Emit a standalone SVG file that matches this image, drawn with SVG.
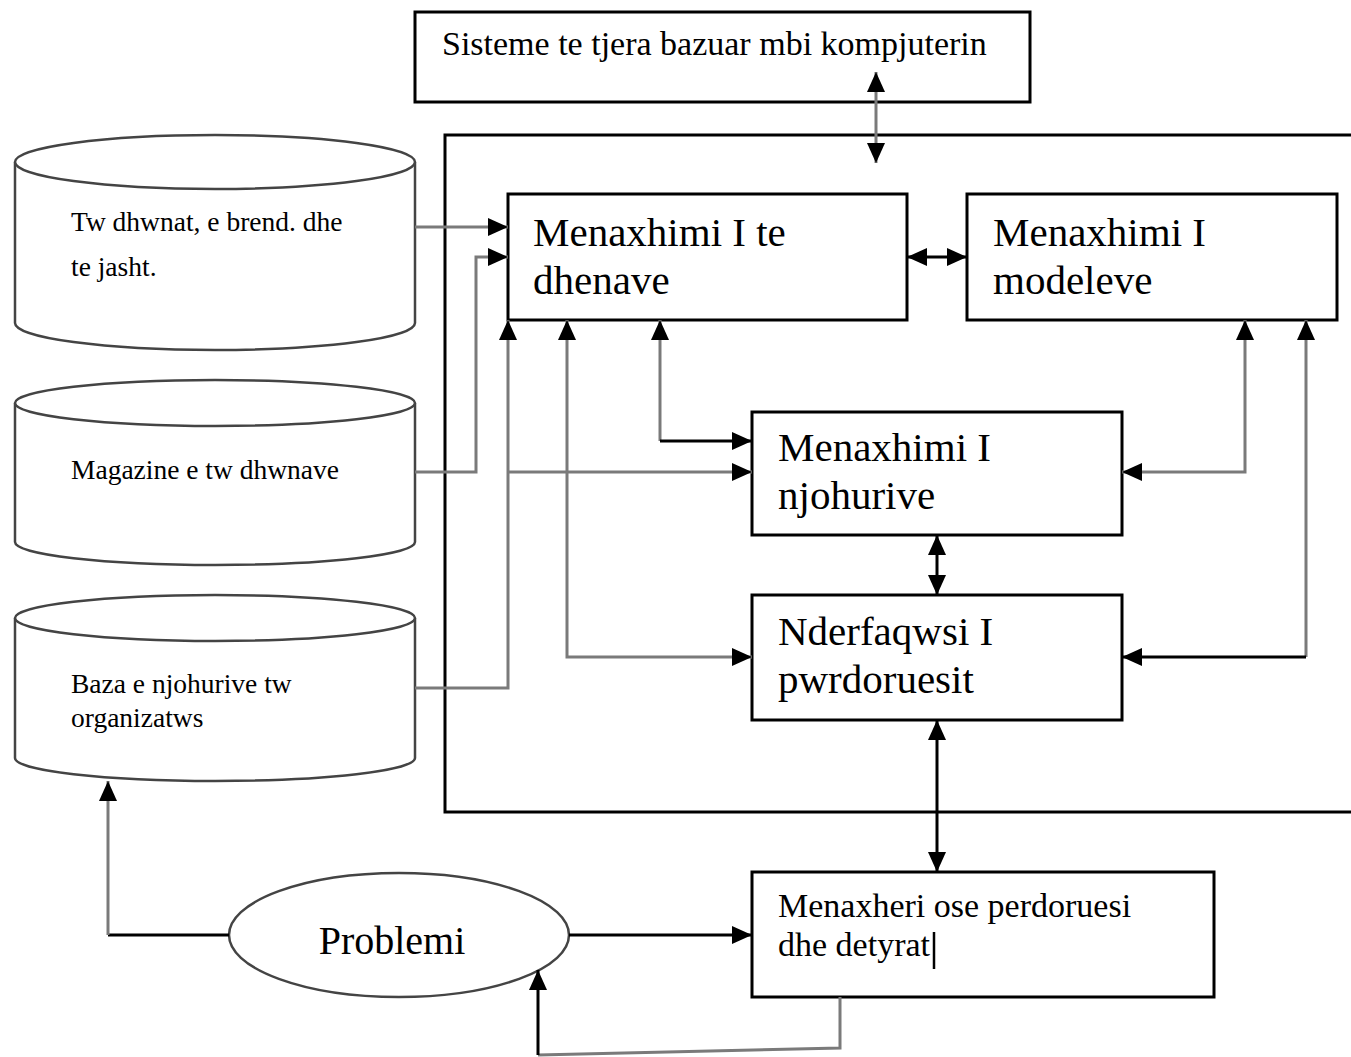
<svg xmlns="http://www.w3.org/2000/svg" width="1351" height="1057" viewBox="0 0 1351 1057">
<style>
  .box { fill: #fff; stroke: #000; stroke-width: 3; }
  .cyl { fill: #fff; stroke: #444; stroke-width: 2.5; }
  .t { font-family: "Liberation Serif", "Times New Roman", serif; fill: #000; }
  .big { font-size: 41px; }
  .mid { font-size: 34px; }
  .sm { font-size: 27.5px; }
  .g { fill: none; stroke: #7a7a7a; stroke-width: 3; }
  .k { fill: none; stroke: #000; stroke-width: 3; }
</style>
<defs>
  <marker id="ah" markerUnits="userSpaceOnUse" markerWidth="20" markerHeight="18" refX="20" refY="9" orient="auto-start-reverse" viewBox="0 0 20 18">
    <path d="M0,0 L20,9 L0,18 z" fill="#000"/>
  </marker>
</defs>
<rect width="1351" height="1057" fill="#fff"/>

<g id="container">
  <rect x="445" y="135" width="920" height="677" fill="none" stroke="#000" stroke-width="3"/>
</g>

<g id="node-top">
  <rect class="box" x="415" y="12" width="615" height="90"/>
  <text class="t" x="442" y="55" font-size="34">Sisteme te tjera bazuar mbi kompjuterin</text>
</g>

<g id="node-cyl1">
  <path class="cyl" d="M15,162 L15,323 A200,27 0 0 0 415,323 L415,162"/>
  <ellipse class="cyl" cx="215" cy="162" rx="200" ry="27"/>
  <text class="t sm" x="71" y="231">Tw dhwnat, e brend. dhe</text>
  <text class="t sm" x="71" y="276">te jasht.</text>
</g>

<g id="node-cyl2">
  <path class="cyl" d="M15,403 L15,542 A200,23 0 0 0 415,542 L415,403"/>
  <ellipse class="cyl" cx="215" cy="403" rx="200" ry="23"/>
  <text class="t sm" x="71" y="479">Magazine e tw dhwnave</text>
</g>

<g id="node-cyl3">
  <path class="cyl" d="M15,618 L15,758 A200,23 0 0 0 415,758 L415,618"/>
  <ellipse class="cyl" cx="215" cy="618" rx="200" ry="23"/>
  <text class="t sm" x="71" y="693">Baza e njohurive tw</text>
  <text class="t sm" x="71" y="727">organizatws</text>
</g>

<g id="node-dhenave">
  <rect class="box" x="508" y="194" width="399" height="126"/>
  <text class="t big" x="533" y="246">Menaxhimi I te</text>
  <text class="t big" x="533" y="294">dhenave</text>
</g>

<g id="node-modeleve">
  <rect class="box" x="967" y="194" width="370" height="126"/>
  <text class="t big" x="993" y="246">Menaxhimi I</text>
  <text class="t big" x="993" y="294">modeleve</text>
</g>

<g id="node-njohurive">
  <rect class="box" x="752" y="412" width="370" height="123"/>
  <text class="t big" x="778" y="461">Menaxhimi I</text>
  <text class="t big" x="778" y="509">njohurive</text>
</g>

<g id="node-nderfaqwsi">
  <rect class="box" x="752" y="595" width="370" height="125"/>
  <text class="t big" x="778" y="645">Nderfaqwsi I</text>
  <text class="t big" x="778" y="693">pwrdoruesit</text>
</g>

<g id="node-menaxheri">
  <rect class="box" x="752" y="872" width="462" height="125"/>
  <text class="t mid" x="778" y="917">Menaxheri ose perdoruesi</text>
  <text class="t mid" x="778" y="956">dhe detyrat</text>
  <line x1="934" y1="932" x2="934" y2="969" stroke="#000" stroke-width="2.5"/>
</g>

<g id="node-problemi">
  <ellipse class="cyl" cx="399" cy="935" rx="170" ry="62"/>
  <text class="t" x="392" y="954" font-size="40" text-anchor="middle">Problemi</text>
</g>

<g id="connectors">
  <path class="g" d="M876,72 L876,163" marker-start="url(#ah)" marker-end="url(#ah)"/>
  <path class="g" d="M415,227 L508,227" marker-end="url(#ah)"/>
  <path class="g" d="M415,472 L476,472 L476,257 L508,257" marker-end="url(#ah)"/>
  <path class="g" d="M415,688 L508,688 L508,320" marker-end="url(#ah)"/>
  <path class="g" d="M508,472 L752,472" marker-end="url(#ah)"/>
  <path class="g" d="M567,320 L567,657 L752,657" marker-start="url(#ah)" marker-end="url(#ah)"/>
  <path class="g" d="M660,320 L660,441" marker-start="url(#ah)"/>
  <path class="k" d="M660,441 L752,441" marker-end="url(#ah)"/>
  <path class="k" d="M907,257 L967,257" marker-start="url(#ah)" marker-end="url(#ah)"/>
  <path class="g" d="M1245,320 L1245,472 L1122,472" marker-start="url(#ah)" marker-end="url(#ah)"/>
  <path class="g" d="M1306,320 L1306,657" marker-start="url(#ah)"/>
  <path class="k" d="M1306,657 L1122,657" marker-end="url(#ah)"/>
  <path class="k" d="M937,535 L937,595" marker-start="url(#ah)" marker-end="url(#ah)"/>
  <path class="k" d="M937,720 L937,872" marker-start="url(#ah)" marker-end="url(#ah)"/>
  <path class="k" d="M229,935 L108,935"/>
  <path class="g" d="M108,935 L108,781" marker-end="url(#ah)"/>
  <path class="k" d="M569,935 L752,935" marker-end="url(#ah)"/>
  <path class="g" d="M840,997 L840,1048 L538,1055"/>
  <path class="k" d="M538,1055 L538,970" marker-end="url(#ah)"/>
</g>
</svg>
